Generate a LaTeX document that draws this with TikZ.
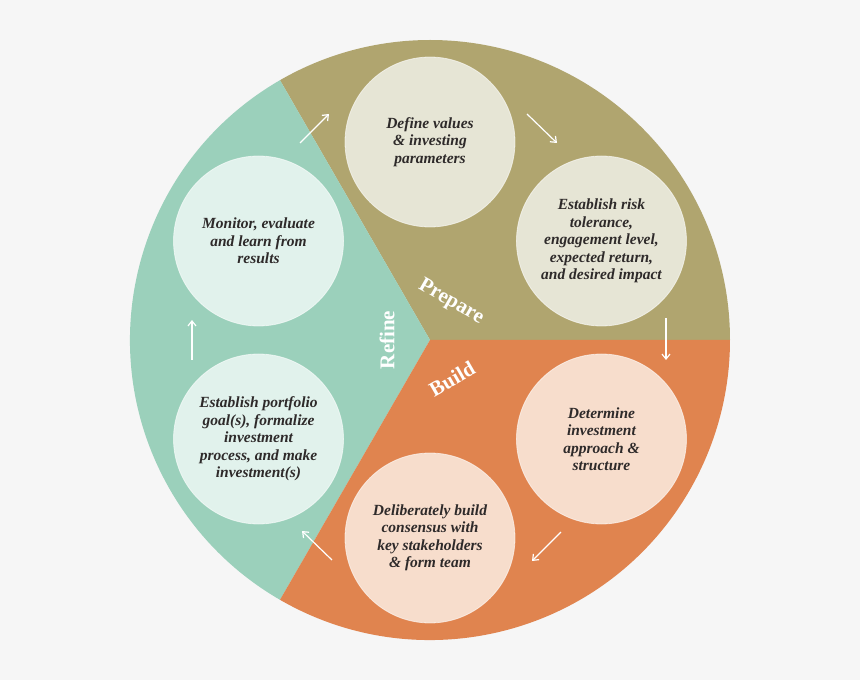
\documentclass[tikz,border=0pt]{standalone}
\usepackage{fontspec}
\setmainfont{Liberation Serif}
\usetikzlibrary{arrows.meta}
\definecolor{bgc}{HTML}{F6F6F6}
\definecolor{olivec}{HTML}{B0A56F}
\definecolor{olivel}{HTML}{E6E5D5}
\definecolor{orangec}{HTML}{E0844F}
\definecolor{orangel}{HTML}{F7DDCC}
\definecolor{tealc}{HTML}{9BD0BB}
\definecolor{teall}{HTML}{E1F2EC}
\definecolor{txtc}{HTML}{2E2A2A}
\tikzset{
  bubble/.style={circle, minimum size=170pt, inner sep=0pt, draw=white, draw opacity=0.6, line width=0.8pt,
    align=center, text=txtc, font=\fontsize{15.5}{17.5}\selectfont\bfseries\itshape},
  arr/.style={draw=white, line width=1.2pt, -{Straight Barb[length=5pt,width=8pt]}},
  phase/.style={text=white, font=\fontsize{21}{22}\selectfont\bfseries}
}
\begin{document}
\begin{tikzpicture}[x=1pt,y=1pt]
\fill[bgc] (-430,-340) rectangle (430,340);
\useasboundingbox (-430,-340) rectangle (430,340);
% sectors
\fill[olivec] (0,0) -- (0:300pt) arc[start angle=0,end angle=120,radius=300pt] -- cycle;
\fill[tealc] (0,0) -- (120:300pt) arc[start angle=120,end angle=240,radius=300pt] -- cycle;
\fill[orangec] (0,0) -- (240:300pt) arc[start angle=240,end angle=360,radius=300pt] -- cycle;
% bubbles
\node[bubble, fill=olivel] (define) at (90:198pt) {Define values\\\& investing\\parameters};
\node[bubble, fill=olivel] (risk) at (30:198pt) {Establish risk\\tolerance,\\engagement level,\\expected return,\\and desired impact};
\node[bubble, fill=orangel] (determine) at (-30:198pt) {Determine\\investment\\approach \&\\structure};
\node[bubble, fill=orangel] (deliberate) at (-90:198pt) {Deliberately build\\consensus with\\key stakeholders\\\& form team};
\node[bubble, fill=teall] (portfolio) at (-150:198pt) {Establish portfolio\\goal(s), formalize\\investment\\process, and make\\investment(s)};
\node[bubble, fill=teall] (monitor) at (150:198pt) {Monitor, evaluate\\and learn from\\results};
% phase labels
\node[phase, rotate=-30, inner sep=0pt] (prepare) at (21,38) {Prepare};
\node[phase, rotate=90, inner sep=0pt] (refine) at (-43,0) {Refine};
\node[phase, rotate=30, inner sep=0pt] (build) at (22,-39) {Build};
% arrow coordinates
\coordinate (a1s) at (-130,197); \coordinate (a1e) at (-101,226);
\coordinate (a2s) at (97,226);   \coordinate (a2e) at (127,197);
\coordinate (a3s) at (236,22);   \coordinate (a3e) at (236,-20);
\coordinate (a4s) at (131,-192); \coordinate (a4e) at (102,-221);
\coordinate (a5s) at (-98,-220); \coordinate (a5e) at (-128,-191);
\coordinate (a6s) at (-238,-20); \coordinate (a6e) at (-238,20);
\draw[arr] (a1s) -- (a1e);
\draw[arr] (a2s) -- (a2e);
\draw[arr] (a3s) -- (a3e);
\draw[arr] (a4s) -- (a4e);
\draw[arr] (a5s) -- (a5e);
\draw[arr] (a6s) -- (a6e);
\end{tikzpicture}
\end{document}
